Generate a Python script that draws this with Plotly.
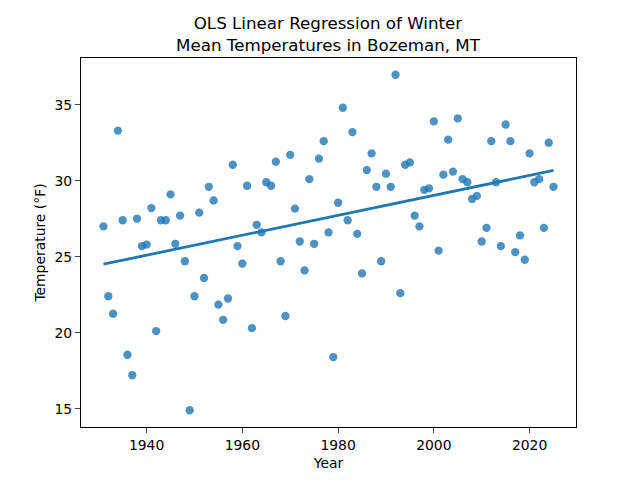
import numpy as np
import plotly.graph_objects as go

years = list(range(1931, 2026))
temps = [
    27.0, 22.4, 21.25, 33.3, 27.4, 18.55, 17.2, 27.5, 25.7, 25.8,
    28.2, 20.1, 27.4, 27.4, 29.1, 25.85, 27.7, 24.7, 14.9, 22.4,
    27.9, 23.6, 29.6, 28.7, 21.85, 20.85, 22.25, 31.05, 25.7, 24.55,
    29.67, 20.3, 27.1, 26.6, 29.9, 29.67, 31.25, 24.7, 21.1, 31.7,
    28.16, 26.0, 24.1, 30.1, 25.85, 31.45, 32.6, 26.6, 18.4, 28.55,
    34.8, 27.4, 33.2, 26.5, 23.9, 30.7, 31.8, 29.6, 24.7, 30.46,
    29.6, 36.97, 22.6, 31.05, 31.2, 27.7, 27.0, 29.4, 29.5, 33.9,
    25.4, 30.4, 32.7, 30.6, 34.1, 30.1, 29.9, 28.8, 29.0, 26.0,
    26.9, 32.6, 29.9, 25.7, 33.7, 32.6, 25.3, 26.4, 24.8, 31.8,
    29.9, 30.1, 26.9, 32.5, 29.6,
]
x_ticks = [1940, 1960, 1980, 2000, 2020]
y_ticks = [15, 20, 25, 30, 35]
title_text = "OLS Linear Regression of Winter<br>Mean Temperatures in Bozeman, MT"

x = np.array(years, dtype=float)
y = np.array(temps, dtype=float)
slope, intercept = np.polyfit(x, y, 1)
fit = slope * x + intercept

fig = go.Figure()
fig.add_trace(go.Scatter(
    x=years, y=temps, mode="markers",
    marker=dict(size=8.3, color="#1f77b4", opacity=0.8, line=dict(width=0)),
    showlegend=False,
))
fig.add_trace(go.Scatter(
    x=years, y=fit.tolist(), mode="lines",
    line=dict(color="#1f77b4", width=2.8),
    showlegend=False,
))

xr = x.max() - x.min()
yr = y.max() - y.min()
font = "DejaVu Sans"
fig.update_layout(
    width=640, height=480,
    margin=dict(l=73, r=72, t=50, b=61),
    paper_bgcolor="white", plot_bgcolor="white",
    font=dict(family=font, size=13.9, color="black"),
    xaxis=dict(
        range=[x.min() - 0.05 * xr, x.max() + 0.05 * xr],
        tickvals=x_ticks, ticks="outside", ticklen=5, tickwidth=1,
        showline=True, linecolor="black", linewidth=1, mirror=True,
        showgrid=False, zeroline=False,
        title=dict(text="Year", font=dict(size=13.9), standoff=6),
    ),
    yaxis=dict(
        range=[y.min() - 0.05 * yr, y.max() + 0.05 * yr],
        tickvals=y_ticks, ticks="outside", ticklen=5, tickwidth=1,
        showline=True, linecolor="black", linewidth=1, mirror=True,
        showgrid=False, zeroline=False,
        title=dict(text="Temperature (°F)", font=dict(size=13.9), standoff=5),
    ),
    annotations=[
        dict(text=title_text, xref="paper", yref="paper", x=0.5, y=1,
             xanchor="center", yanchor="bottom", yshift=2, showarrow=False,
             borderpad=0, font=dict(family=font, size=16.7, color="black")),
    ],
)
fig.write_html("out.html")
